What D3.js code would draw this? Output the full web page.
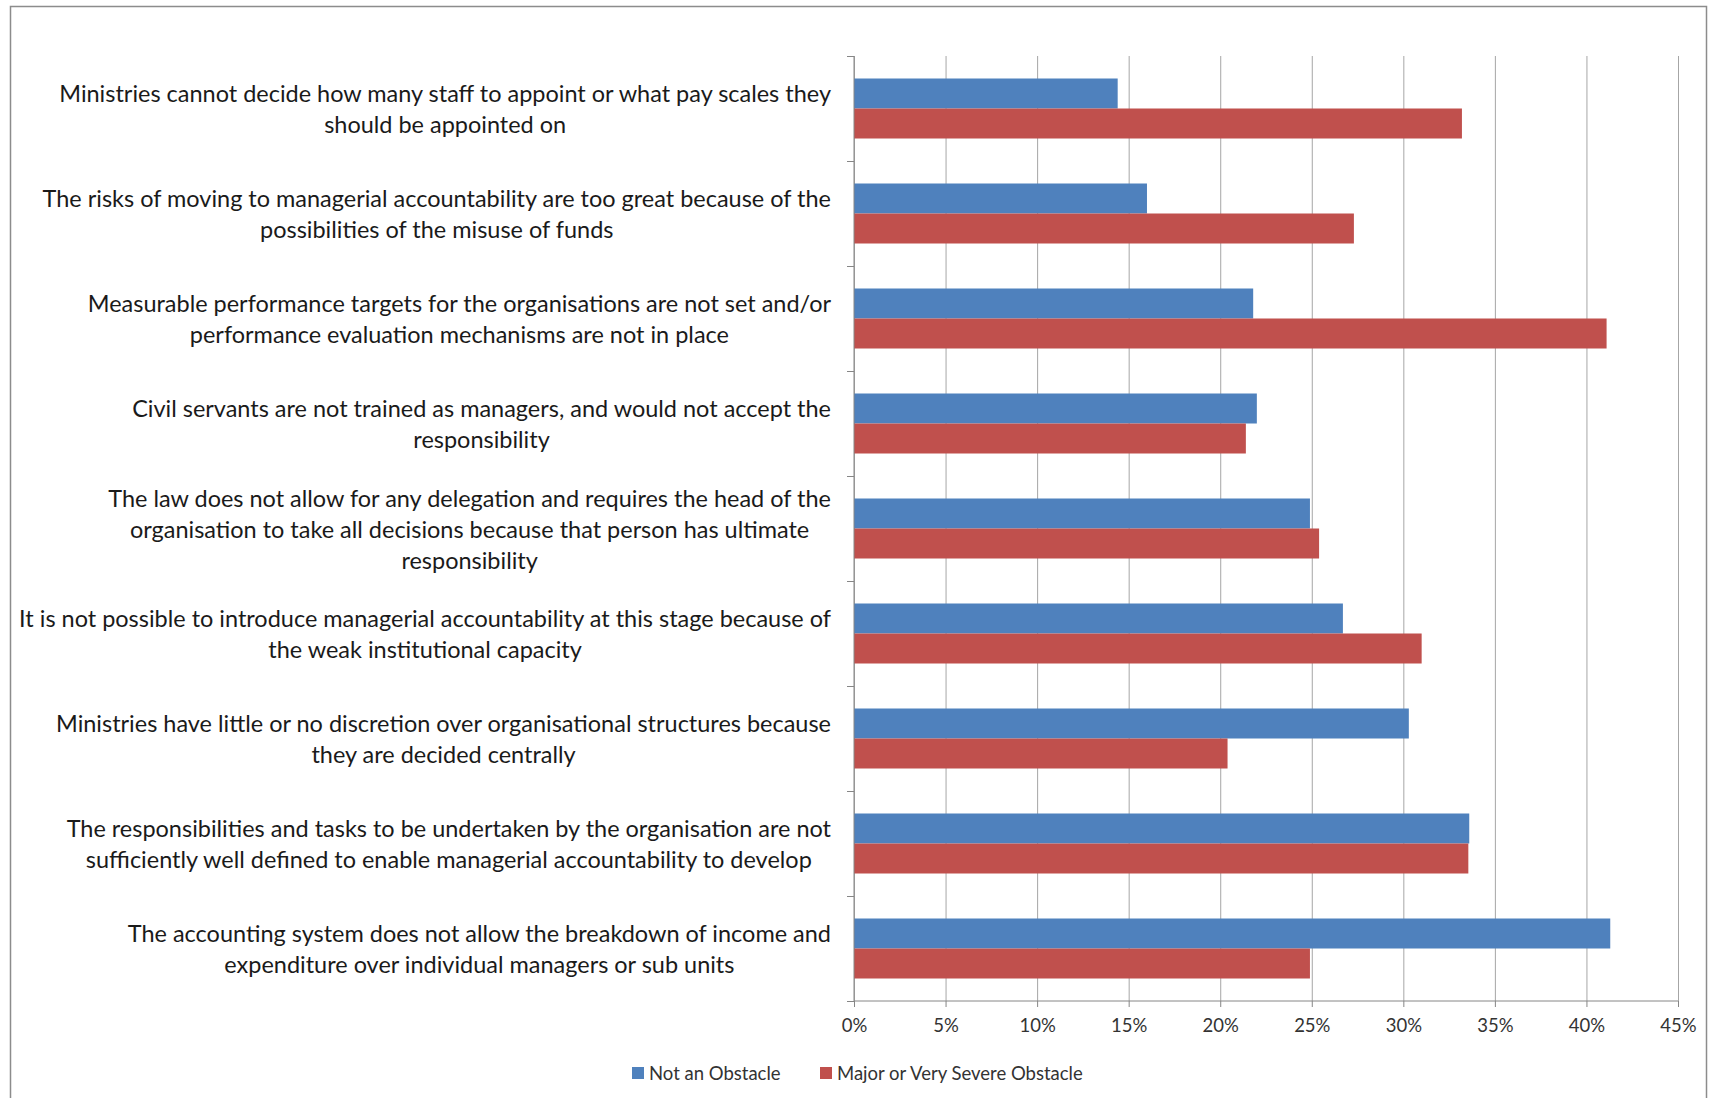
<!DOCTYPE html>
<html>
<head>
<meta charset="utf-8">
<script src="https://cdn.jsdelivr.net/npm/d3@7"></script>
<style>
  body { margin: 0; background: #fff; }
  svg { display: block; font-family: Lato, "Open Sans", sans-serif; }
</style>
</head>
<body>
<div id="chart"></div>
<script>
// categories, top to bottom (line breaks as in the original chart)
const categories = [
  "Ministries cannot decide how many staff to appoint or what pay scales they\nshould be appointed on",
  "The risks of moving to managerial accountability are too great because of the\npossibilities of the misuse of funds",
  "Measurable performance targets for the organisations are not set and/or\nperformance evaluation mechanisms are not in place",
  "Civil servants are not trained as managers, and would not accept the\nresponsibility",
  "The law does not allow for any delegation and requires the head of the\norganisation to take all decisions because that person has ultimate\nresponsibility",
  "It is not possible to introduce managerial accountability at this stage because of\nthe weak institutional capacity",
  "Ministries have little or no discretion over organisational structures because\nthey are decided centrally",
  "The responsibilities and tasks to be undertaken by the organisation are not\nsufficiently well defined to enable managerial accountability to develop",
  "The accounting system does not allow the breakdown of income and\nexpenditure over individual managers or sub units"
];

const seriesNames = ["Not an Obstacle", "Major or Very Severe Obstacle"];
const notObstacle = [0.144, 0.160, 0.218, 0.220, 0.249, 0.267, 0.303, 0.336, 0.413];
const majorObstacle = [0.332, 0.273, 0.411, 0.214, 0.254, 0.310, 0.204, 0.3355, 0.249];
const xTicks = [0, 0.05, 0.10, 0.15, 0.20, 0.25, 0.30, 0.35, 0.40, 0.45];

const colors = ["#4F81BD", "#C0504D"];

const W = 1712, H = 1098;
const plot = { left: 854, right: 1678, top: 56, bottom: 1001 };

const svg = d3.select('#chart')
  .append('svg')
  .attr('width', W)
  .attr('height', H);

svg.append('rect')
  .attr('width', W)
  .attr('height', H)
  .attr('fill', '#fff');

// chart border
svg.append('rect')
  .attr('x', 10.5)
  .attr('y', 6.5)
  .attr('width', 1696)
  .attr('height', 1100)
  .attr('fill', 'none')
  .attr('stroke', '#8c8c8c')
  .attr('stroke-width', 1.5);

// scales
const x = d3.scaleLinear()
  .domain([0, 0.45])
  .range([plot.left, plot.right]);

const y = d3.scaleBand()
  .domain(d3.range(categories.length))
  .range([plot.top, plot.bottom])
  .paddingInner(0.4286)
  .paddingOuter(0.2143);

const ySub = d3.scaleBand()
  .domain([0, 1])
  .range([0, y.bandwidth()]);

// used for category tick marks between bands
const yEdge = d3.scaleLinear()
  .domain([0, categories.length])
  .range([plot.top, plot.bottom]);

// gridlines
svg.append('g')
  .attr('class', 'grid')
  .attr('transform', `translate(0, ${plot.bottom})`)
  .call(d3.axisBottom(x).tickValues(xTicks).tickSize(-(plot.bottom - plot.top)).tickFormat(''))
  .call(g => g.select('.domain').remove())
  .call(g => g.selectAll('line').attr('stroke', '#a6a6a6').attr('stroke-width', 1));

// bars
const seriesData = [notObstacle, majorObstacle];
seriesData.forEach((vals, s) => {
  svg.append('g')
    .selectAll('rect')
    .data(vals)
    .enter()
    .append('rect')
    .attr('x', x(0))
    .attr('y', (d, i) => y(i) + ySub(s))
    .attr('width', d => x(d) - x(0))
    .attr('height', ySub.bandwidth())
    .attr('fill', colors[s]);
});

// X axis
svg.append('g')
  .attr('transform', `translate(0, ${plot.bottom})`)
  .call(d3.axisBottom(x).tickValues(xTicks).tickSize(6).tickPadding(12).tickFormat(d3.format('.0%')))
  .call(g => g.select('.domain').attr('stroke', '#868686').attr('d', `M${plot.left},0H${plot.right}`))
  .call(g => g.selectAll('line').attr('stroke', '#868686'))
  .call(g => g.selectAll('text')
    .attr('font-size', 18.5)
    .attr('font-family', 'Lato, sans-serif')
    .attr('fill', '#333'));

// Y axis (ticks between categories)
svg.append('g')
  .attr('transform', `translate(${plot.left}, 0)`)
  .call(d3.axisLeft(yEdge).tickValues(d3.range(categories.length + 1)).tickSize(7).tickFormat(''))
  .call(g => g.select('.domain').attr('stroke', '#868686').attr('d', `M0,${plot.top}V${plot.bottom}`))
  .call(g => g.selectAll('line').attr('stroke', '#868686'));

// category labels: centred lines, block right-aligned to the axis
const labelRight = 831;
const lineH = 31;
let fontSize = 22;

const probe = svg.append('text')
  .attr('font-size', fontSize)
  .text(categories[5].split('\n')[0]);
fontSize = fontSize * 812 / probe.node().getComputedTextLength();
probe.remove();

categories.forEach((cat, i) => {
  const lines = cat.split('\n');
  const cy = y(i) + y.bandwidth() / 2;
  const g = svg.append('g');
  const texts = g.selectAll('text')
    .data(lines)
    .enter()
    .append('text')
    .attr('font-size', fontSize)
    .attr('fill', '#1a1a1a')
    .attr('dominant-baseline', 'central')
    .attr('y', (d, k) => cy + (k - (lines.length - 1) / 2) * lineH)
    .text(d => d);
  const widths = texts.nodes().map(n => n.getComputedTextLength());
  const blockW = d3.max(widths);
  texts.attr('x', labelRight - blockW / 2)
    .attr('text-anchor', 'middle');
});

// legend
const legendX = [632, 820];
const legendY = 1073;
seriesNames.forEach((name, s) => {
  svg.append('rect')
    .attr('x', legendX[s])
    .attr('y', legendY - 6)
    .attr('width', 12)
    .attr('height', 12)
    .attr('fill', colors[s]);
  svg.append('text')
    .attr('x', legendX[s] + 17)
    .attr('y', legendY)
    .attr('dominant-baseline', 'central')
    .attr('font-size', 18.5)
    .attr('fill', '#333')
    .text(name);
});
</script>
</body>
</html>
